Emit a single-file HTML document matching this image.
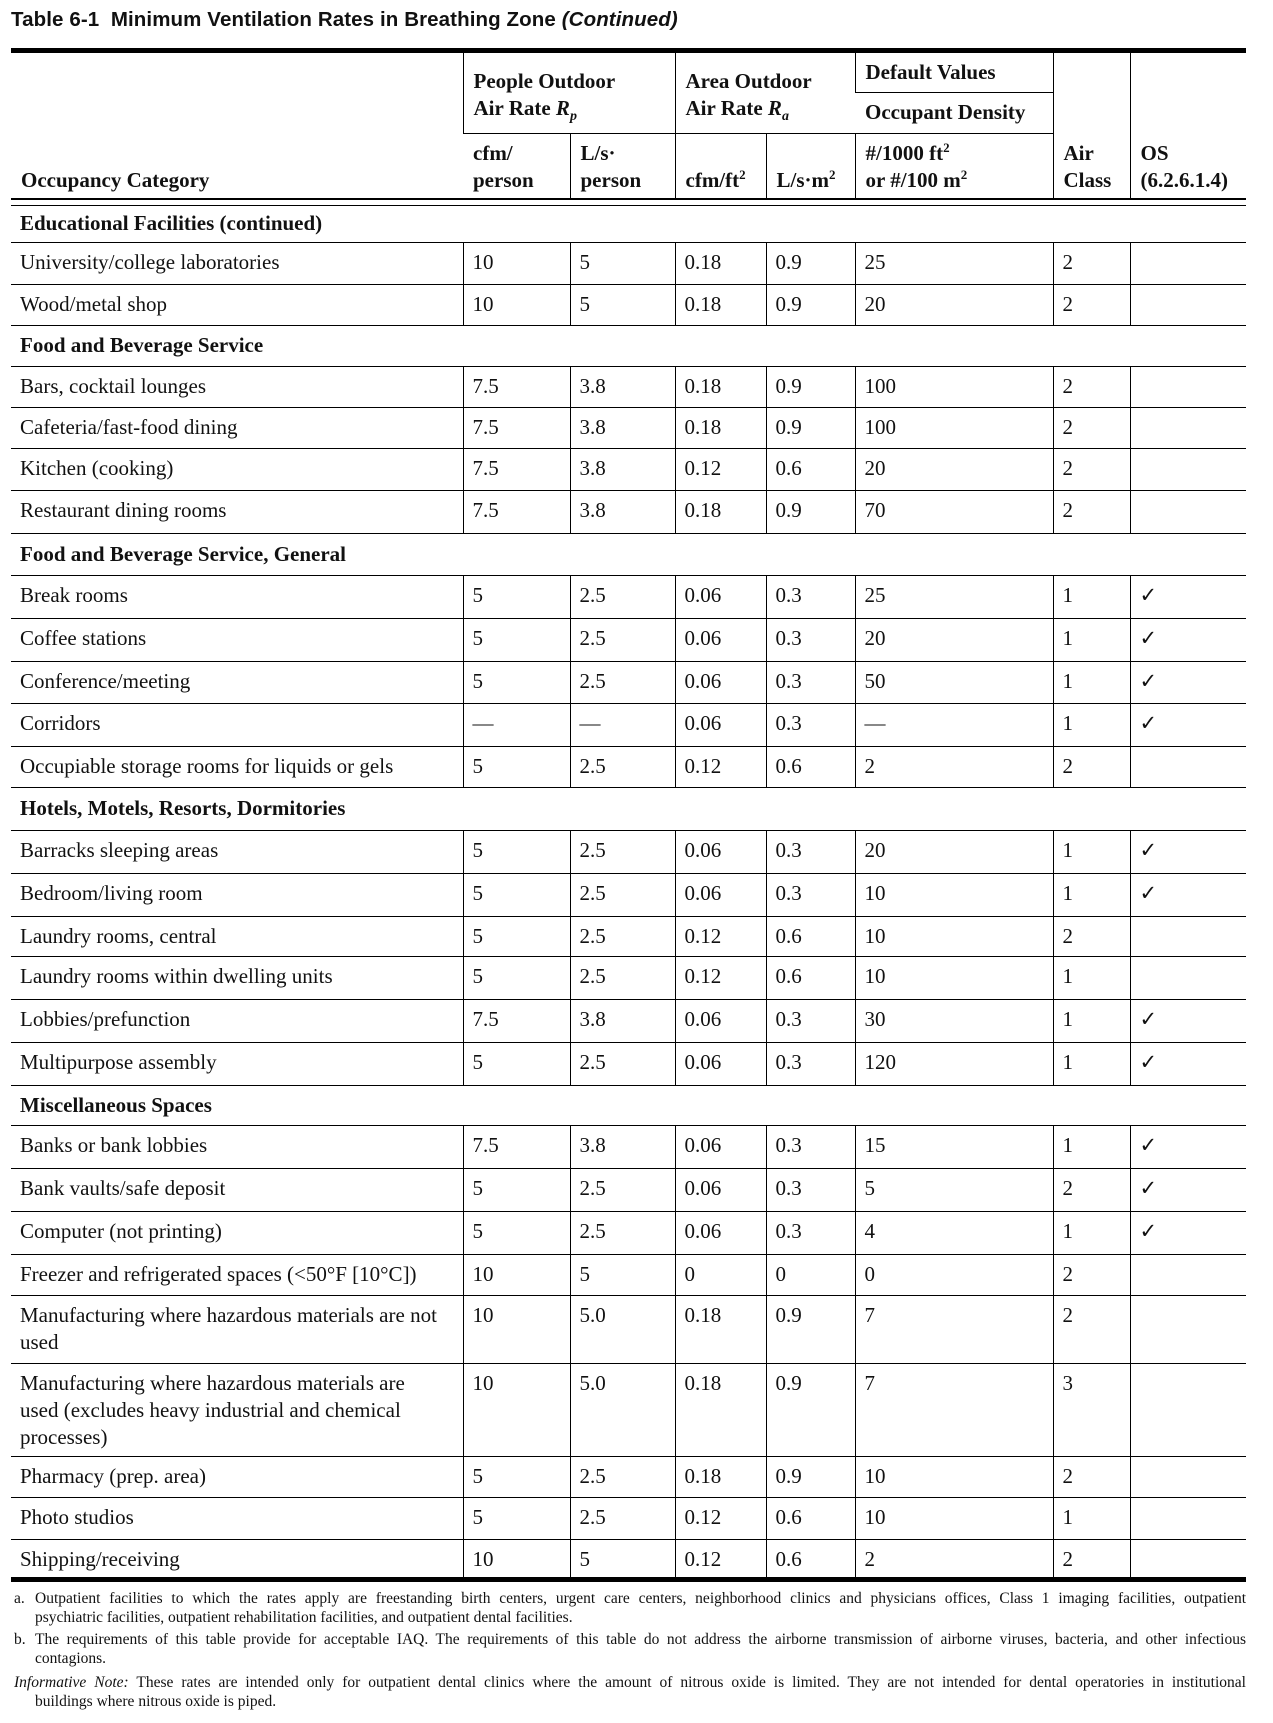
<!DOCTYPE html>
<html><head><meta charset="utf-8"><style>
body{margin:0;width:1273px;height:1723px;background:#fff;position:relative;overflow:hidden;color:#111}
.title{position:absolute;left:11px;top:8px;font:bold 20.5px "Liberation Sans",sans-serif;letter-spacing:0.1px}
.rule{position:absolute;left:11px;width:1235px;background:#000}
table{position:absolute;left:11px;top:53px;border-collapse:collapse;table-layout:fixed;width:1235px;font:21px/27px "Liberation Serif",serif}
td{padding:0 0 0 9px;border-left:1.5px solid #000;border-top:1.5px solid #000;vertical-align:top;overflow:hidden;white-space:nowrap}
td:first-child{border-left:none}
thead td{font-weight:bold;padding-left:10px}
tr.s td{font-weight:bold;border-left:none;vertical-align:middle}
tr.g td{border-left:none;padding:0}
tbody tr:not(.s):not(.g) td{padding-top:6px}
.hb{border-top:none}
.fn{position:absolute;left:14px;width:1232px;font:15.5px/19px "Liberation Serif",serif}
.fn .i{position:absolute;left:0;top:0}
.fn div{padding-left:21px}
.j{text-align:justify;text-align-last:justify}
sup{font-size:13px;line-height:0}
sub{font-size:14px;line-height:0}
</style></head><body>
<div class="title">Table 6-1&nbsp; Minimum Ventilation Rates in Breathing Zone <i>(Continued)</i></div>
<div class="rule" style="top:48px;height:5px"></div>
<div class="rule" style="top:1577px;height:5px"></div>
<table>
<colgroup><col style="width:452px"><col style="width:107px"><col style="width:105px"><col style="width:91px"><col style="width:89px"><col style="width:198px"><col style="width:77px"><col style="width:116px"></colgroup>
<thead>
<tr style="height:39px"><td rowspan="3" class="hb" style="vertical-align:bottom;padding-bottom:4px">Occupancy Category</td><td colspan="2" rowspan="2" class="hb" style="vertical-align:middle;padding-top:4px">People Outdoor<br>Air Rate <i>R<sub>p</sub></i></td><td colspan="2" rowspan="2" class="hb" style="vertical-align:middle;padding-top:4px">Area Outdoor<br>Air Rate <i>R<sub>a</sub></i></td><td class="hb" style="vertical-align:middle">Default Values</td><td rowspan="3" class="hb" style="vertical-align:bottom;padding-bottom:4px">Air<br>Class</td><td rowspan="3" class="hb" style="vertical-align:bottom;padding-bottom:4px">OS<br>(6.2.6.1.4)</td></tr>
<tr style="height:41px"><td style="vertical-align:middle">Occupant Density</td></tr>
<tr style="height:66px"><td style="vertical-align:bottom;padding-bottom:4px">cfm/<br>person</td><td style="vertical-align:bottom;padding-bottom:4px">L/s·<br>person</td><td style="vertical-align:bottom;padding-bottom:4px">cfm/ft<sup>2</sup></td><td style="vertical-align:bottom;padding-bottom:4px">L/s·m<sup>2</sup></td><td style="vertical-align:bottom;padding-bottom:4px">#/1000 ft<sup>2</sup><br>or #/100 m<sup>2</sup></td></tr>
</thead>
<tbody>
<tr class="g" style="height:6px"><td colspan="8" style="font-size:0;line-height:0;border-top:2px solid #000"></td></tr>
<tr class="s" style="height:37px;"><td colspan="8">Educational Facilities (continued)</td></tr>
<tr style="height:42px"><td>University/college laboratories</td><td>10</td><td>5</td><td>0.18</td><td>0.9</td><td>25</td><td>2</td><td></td></tr>
<tr style="height:41px"><td>Wood/metal shop</td><td>10</td><td>5</td><td>0.18</td><td>0.9</td><td>20</td><td>2</td><td></td></tr>
<tr class="s" style="height:41px"><td colspan="8">Food and Beverage Service</td></tr>
<tr style="height:41px"><td>Bars, cocktail lounges</td><td>7.5</td><td>3.8</td><td>0.18</td><td>0.9</td><td>100</td><td>2</td><td></td></tr>
<tr style="height:41px"><td>Cafeteria/fast-food dining</td><td>7.5</td><td>3.8</td><td>0.18</td><td>0.9</td><td>100</td><td>2</td><td></td></tr>
<tr style="height:42px"><td>Kitchen (cooking)</td><td>7.5</td><td>3.8</td><td>0.12</td><td>0.6</td><td>20</td><td>2</td><td></td></tr>
<tr style="height:43px"><td>Restaurant dining rooms</td><td>7.5</td><td>3.8</td><td>0.18</td><td>0.9</td><td>70</td><td>2</td><td></td></tr>
<tr class="s" style="height:42px"><td colspan="8">Food and Beverage Service, General</td></tr>
<tr style="height:43px"><td>Break rooms</td><td>5</td><td>2.5</td><td>0.06</td><td>0.3</td><td>25</td><td>1</td><td>✓</td></tr>
<tr style="height:43px"><td>Coffee stations</td><td>5</td><td>2.5</td><td>0.06</td><td>0.3</td><td>20</td><td>1</td><td>✓</td></tr>
<tr style="height:42px"><td>Conference/meeting</td><td>5</td><td>2.5</td><td>0.06</td><td>0.3</td><td>50</td><td>1</td><td>✓</td></tr>
<tr style="height:43px"><td>Corridors</td><td>—</td><td>—</td><td>0.06</td><td>0.3</td><td>—</td><td>1</td><td>✓</td></tr>
<tr style="height:41px"><td>Occupiable storage rooms for liquids or gels</td><td>5</td><td>2.5</td><td>0.12</td><td>0.6</td><td>2</td><td>2</td><td></td></tr>
<tr class="s" style="height:43px"><td colspan="8">Hotels, Motels, Resorts, Dormitories</td></tr>
<tr style="height:43px"><td>Barracks sleeping areas</td><td>5</td><td>2.5</td><td>0.06</td><td>0.3</td><td>20</td><td>1</td><td>✓</td></tr>
<tr style="height:43px"><td>Bedroom/living room</td><td>5</td><td>2.5</td><td>0.06</td><td>0.3</td><td>10</td><td>1</td><td>✓</td></tr>
<tr style="height:40px"><td>Laundry rooms, central</td><td>5</td><td>2.5</td><td>0.12</td><td>0.6</td><td>10</td><td>2</td><td></td></tr>
<tr style="height:43px"><td>Laundry rooms within dwelling units</td><td>5</td><td>2.5</td><td>0.12</td><td>0.6</td><td>10</td><td>1</td><td></td></tr>
<tr style="height:43px"><td>Lobbies/prefunction</td><td>7.5</td><td>3.8</td><td>0.06</td><td>0.3</td><td>30</td><td>1</td><td>✓</td></tr>
<tr style="height:43px"><td>Multipurpose assembly</td><td>5</td><td>2.5</td><td>0.06</td><td>0.3</td><td>120</td><td>1</td><td>✓</td></tr>
<tr class="s" style="height:40px"><td colspan="8">Miscellaneous Spaces</td></tr>
<tr style="height:43px"><td>Banks or bank lobbies</td><td>7.5</td><td>3.8</td><td>0.06</td><td>0.3</td><td>15</td><td>1</td><td>✓</td></tr>
<tr style="height:43px"><td>Bank vaults/safe deposit</td><td>5</td><td>2.5</td><td>0.06</td><td>0.3</td><td>5</td><td>2</td><td>✓</td></tr>
<tr style="height:43px"><td>Computer (not printing)</td><td>5</td><td>2.5</td><td>0.06</td><td>0.3</td><td>4</td><td>1</td><td>✓</td></tr>
<tr style="height:41px"><td>Freezer and refrigerated spaces (&lt;50°F [10°C])</td><td>10</td><td>5</td><td>0</td><td>0</td><td>0</td><td>2</td><td></td></tr>
<tr style="height:68px"><td>Manufacturing where hazardous materials are not<br>used</td><td>10</td><td>5.0</td><td>0.18</td><td>0.9</td><td>7</td><td>2</td><td></td></tr>
<tr style="height:93px"><td>Manufacturing where hazardous materials are<br>used (excludes heavy industrial and chemical<br>processes)</td><td>10</td><td>5.0</td><td>0.18</td><td>0.9</td><td>7</td><td>3</td><td></td></tr>
<tr style="height:41px"><td>Pharmacy (prep. area)</td><td>5</td><td>2.5</td><td>0.18</td><td>0.9</td><td>10</td><td>2</td><td></td></tr>
<tr style="height:42px"><td>Photo studios</td><td>5</td><td>2.5</td><td>0.12</td><td>0.6</td><td>10</td><td>1</td><td></td></tr>
<tr style="height:39px"><td>Shipping/receiving</td><td>10</td><td>5</td><td>0.12</td><td>0.6</td><td>2</td><td>2</td><td></td></tr>
</tbody></table>
<div class="fn" style="top:1589px"><span class="i">a.</span><div><div class="j" style="padding:0">Outpatient facilities to which the rates apply are freestanding birth centers, urgent care centers, neighborhood clinics and physicians offices, Class 1 imaging facilities, outpatient</div><div style="padding:0">psychiatric facilities, outpatient rehabilitation facilities, and outpatient dental facilities.</div></div></div>
<div class="fn" style="top:1630px"><span class="i">b.</span><div><div class="j" style="padding:0">The requirements of this table provide for acceptable IAQ. The requirements of this table do not address the airborne transmission of airborne viruses, bacteria, and other infectious</div><div style="padding:0">contagions.</div></div></div>
<div class="fn" style="top:1673px;left:14px"><div class="j" style="padding:0"><i>Informative Note:</i> These rates are intended only for outpatient dental clinics where the amount of nitrous oxide is limited. They are not intended for dental operatories in institutional</div><div>buildings where nitrous oxide is piped.</div></div>
</body></html>
